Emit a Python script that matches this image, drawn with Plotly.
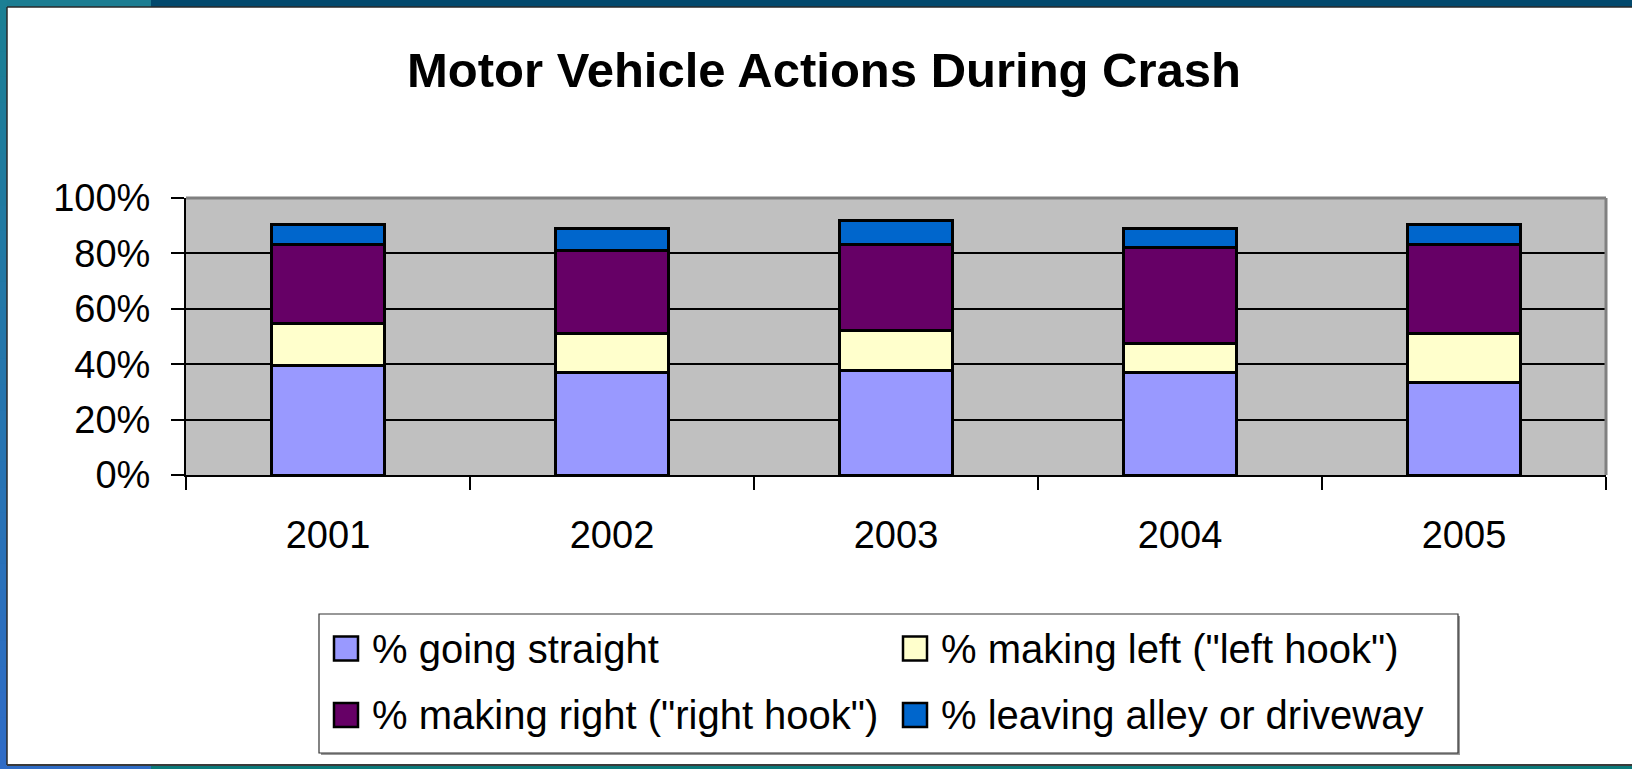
import plotly.graph_objects as go

# ---------------- data ----------------
categories = ["2001", "2002", "2003", "2004", "2005"]
going_straight = [39.4, 36.9, 37.9, 36.9, 33.5]
making_left = [15.2, 14.1, 14.3, 10.6, 17.7]
making_right = [28.7, 29.9, 31.1, 34.6, 32.1]
leaving_alley = [7.2, 8.2, 8.4, 7.0, 7.2]

series_names = [
    "% going straight",
    '% making left ("left hook")',
    '% making right ("right hook")',
    "% leaving alley or driveway",
]
series_values = [going_straight, making_left, making_right, leaving_alley]
series_colors = ["#9999FF", "#FFFFCC", "#660066", "#0066CC"]

y_tick_values = [0, 20, 40, 60, 80, 100]
y_tick_labels = ["%d%%" % v for v in y_tick_values]
title_text = "Motor Vehicle Actions During Crash"

# ---------------- layout geometry (pixels) ----------------
W, H = 1632, 769
PL, PR, PT, PB = 186, 1606, 198, 475   # plot area
FONT = "Liberation Sans, Arial, sans-serif"


def px(x):
    return (x - PL) / (PR - PL)


def py(y):
    return (PB - y) / (PB - PT)


fig = go.Figure()
for name, vals, col in zip(series_names, series_values, series_colors):
    fig.add_trace(go.Bar(
        x=categories, y=vals, name=name,
        marker=dict(color=col, line=dict(color="black", width=3)),
        showlegend=False,
    ))

shapes = []
annotations = []


def rect(x0, y0, x1, y1, fill, line_color=None, lw=0, layer="below"):
    shapes.append(dict(
        type="rect", xref="paper", yref="paper",
        x0=px(x0), x1=px(x1), y0=py(y0), y1=py(y1),
        fillcolor=fill, layer=layer,
        line=dict(color=line_color or fill, width=lw),
    ))


def line(x0, y0, x1, y1, color, lw, layer="below"):
    shapes.append(dict(
        type="line", xref="paper", yref="paper",
        x0=px(x0), x1=px(x1), y0=py(y0), y1=py(y1),
        layer=layer, line=dict(color=color, width=lw),
    ))


# slide frame: top band, left gradient band, bottom band
rect(0, 0, W, 7, "#02496d")
rect(0, 0, 151, 7, "#1c7d92")
n = 30
c0 = (27, 127, 148)
c1 = (47, 108, 198)
for i in range(n):
    t = i / (n - 1)
    c = tuple(int(round(a + (b - a) * t)) for a, b in zip(c0, c1))
    rect(0, H * i / n, 7, H * (i + 1) / n + 1, "rgb(%d,%d,%d)" % c)
rect(0, 765, 151, H, "#2f6cc6")
rect(151, 765, W, H, "#0b7a7a")
line(7, 7, W, 7, "#2a2a2a", 1.5)
line(7, 7, 7, 765, "#2a2a2a", 1.5)
line(7, 765, W, 765, "#3a3a3a", 2)

# plot area border (top / right, grey)
line(PL, PT, PR, PT, "#808080", 3, layer="above")
line(PR, PT, PR, PB, "#808080", 3, layer="above")

# custom legend
LX0, LY0, LX1, LY1 = 319, 614, 1458, 753
rect(LX0 + 2, LY0 + 2, LX1 + 2, LY1 + 2, "#9a9a9a")
rect(LX0, LY0, LX1, LY1, "white", "#333333", 1.2)
col_x = [334, 903]
row_y = [648.5, 715]
for i, (name, col) in enumerate(zip(series_names, series_colors)):
    cx = col_x[i % 2]
    cy = row_y[i // 2]
    rect(cx, cy - 12, cx + 24, cy + 12, col, "black", 2.5)
    annotations.append(dict(
        xref="paper", yref="paper", x=px(cx + 36), y=py(cy),
        xanchor="left", yanchor="middle", showarrow=False,
        text=name, font=dict(family=FONT, size=40, color="black"),
    ))

fig.update_layout(
    width=W, height=H, autosize=False,
    margin=dict(l=PL, r=W - PR, t=PT, b=H - PB, pad=0),
    paper_bgcolor="white",
    plot_bgcolor="#C0C0C0",
    barmode="stack",
    bargap=0.6,
    font=dict(family=FONT, color="black"),
    title=dict(
        text="<b>%s</b>" % title_text,
        x=824 / W, xanchor="center", xref="container",
        y=1 - 70 / H, yanchor="middle", yref="container",
        font=dict(family=FONT, size=49, color="black"),
    ),
    xaxis=dict(
        type="category", tickson="boundaries",
        ticks="outside", ticklen=13, tickwidth=1.5, tickcolor="black",
        showline=True, linecolor="black", linewidth=2,
        showgrid=False, zeroline=False,
        tickfont=dict(family=FONT, size=38, color="black"),
        ticklabelstandoff=25,
    ),
    yaxis=dict(
        range=[0, 100],
        tickmode="array", tickvals=y_tick_values, ticktext=y_tick_labels,
        ticks="outside", ticklen=13, tickwidth=1.5, tickcolor="black",
        showline=True, linecolor="black", linewidth=2,
        showgrid=True, gridcolor="black", gridwidth=1.5,
        zeroline=False,
        tickfont=dict(family=FONT, size=38, color="black"),
        ticklabelstandoff=13,
    ),
    shapes=shapes,
    annotations=annotations,
)

fig.write_html(
    "out.html",
    config={"displayModeBar": False},
    post_script="document.body.style.margin='0';document.body.style.overflow='hidden';",
)
